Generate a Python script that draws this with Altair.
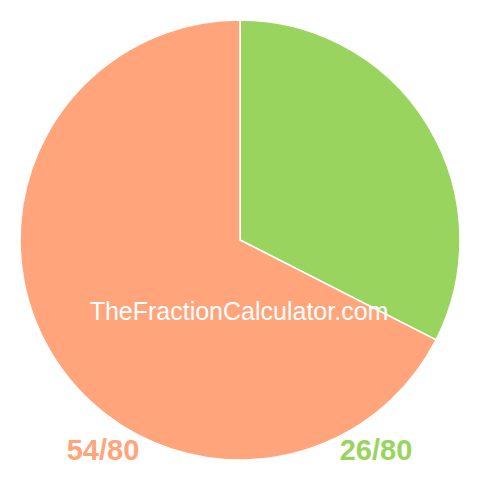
import altair as alt
import pandas as pd

labels = ["26/80", "54/80"]
values = [26, 54]
colors = ["#99D45F", "#FFA47B"]
order = [0, 1]
watermark = "TheFractionCalculator.com"

df = pd.DataFrame({"label": labels, "value": values, "color": colors, "order": order})

W = 464
cx, cy = 232, 232

pie = alt.Chart(df).mark_arc(radius=220, stroke="white", strokeWidth=1.5).encode(
    theta=alt.Theta("value:Q", stack=True),
    order=alt.Order("order:Q"),
    color=alt.Color("color:N", scale=None),
    x=alt.value(cx),
    y=alt.value(cy),
)

wm = alt.Chart(pd.DataFrame({"t": [watermark]})).mark_text(
    font="Liberation Sans", fontSize=25, color="white", align="center", baseline="alphabetic"
).encode(text="t:N", x=alt.value(231), y=alt.value(312))

lab_df = pd.DataFrame({"label": ["54/80", "26/80"], "color": ["#FFA47B", "#99D45F"], "px": [95, 368]})
lab = alt.Chart(lab_df).mark_text(
    font="Liberation Sans", fontSize=29, fontWeight="bold", align="center", baseline="alphabetic"
).encode(
    text="label:N",
    x=alt.X("px:Q", scale=None),
    y=alt.value(452),
    color=alt.Color("color:N", scale=None),
)

chart = alt.layer(pie, wm, lab).properties(
    width=W, height=W, padding=0, autosize=alt.AutoSizeParams(type="none")
).configure_view(stroke=None)

chart.save("out.html", embed_options={"renderer": "svg", "actions": False})
